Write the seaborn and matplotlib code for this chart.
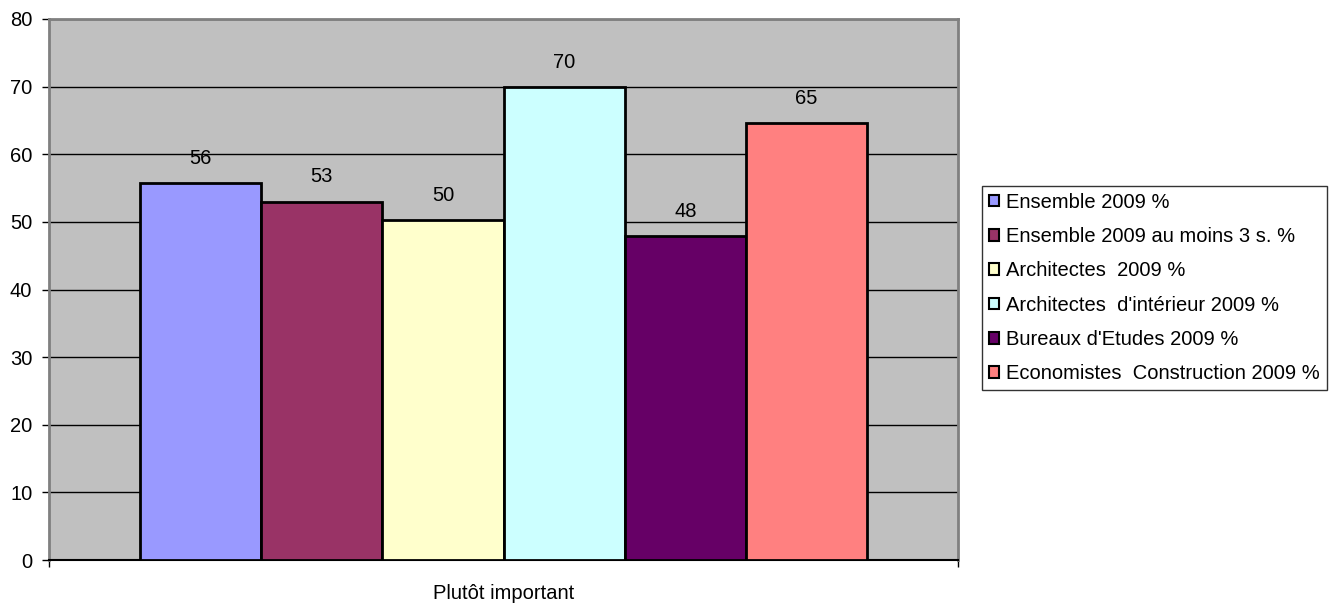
import matplotlib
matplotlib.use("Agg")
import matplotlib.pyplot as plt
import seaborn as sns
import pandas as pd

# values
categories = ["Plutôt important"]
series = ["Ensemble 2009 %", "Ensemble 2009 au moins 3 s. %", "Architectes  2009 %",
          "Architectes  d'intérieur 2009 %", "Bureaux d'Etudes 2009 %",
          "Economistes  Construction 2009 %"]
values = [55.7, 53.0, 50.3, 69.9, 47.9, 64.6]
colors = ["#9999FF", "#993366", "#FFFFCC", "#CCFFFF", "#660066", "#FF8080"]

df = pd.DataFrame({"cat": categories * len(series), "serie": series, "val": values})

sns.set_style("white")
plt.rcParams["font.family"] = ["Liberation Sans", "DejaVu Sans"]
plt.rcParams["text.color"] = "black"
plt.rcParams["xtick.color"] = "black"
plt.rcParams["ytick.color"] = "black"

fs = 14.5

fig = plt.figure(figsize=(13.43, 6.05), dpi=100)
ax = fig.add_axes([49 / 1343, 1 - 560 / 605, 909 / 1343, 541 / 605])
ax.set_facecolor("#C0C0C0")

sns.barplot(data=df, x="cat", y="val", hue="serie", palette=colors, width=0.8,
            saturation=1, edgecolor="black", linewidth=2, ax=ax, legend=False, zorder=3)

for c in ax.containers:
    ax.bar_label(c, fmt="%.0f", padding=11, fontsize=fs, color="black")

ax.set_ylim(0, 80)
ax.set_xlim(-0.5, 0.5)
ax.set_yticks(range(0, 81, 10))
ax.yaxis.grid(True, color="black", linewidth=1)
ax.set_axisbelow(True)
ax.set_xlabel("")
ax.set_ylabel("")
ax.tick_params(axis="y", left=True, length=5, width=1, labelsize=fs, pad=7)
ax.set_xticks([0])
ax.set_xticklabels(categories, fontsize=fs)
ax.set_xticks([-0.5, 0.5], minor=True)
ax.tick_params(axis="x", which="major", length=0, pad=17)
ax.tick_params(axis="x", which="minor", bottom=True, length=5, width=1)

for s in ["top", "right", "left"]:
    ax.spines[s].set_color("#808080")
    ax.spines[s].set_linewidth(2)
ax.spines["bottom"].set_color("black")
ax.spines["bottom"].set_linewidth(1.5)

handles = [plt.Rectangle((0, 0), 1, 1, facecolor=col, edgecolor="black", linewidth=1.5)
           for col in colors]
leg = fig.legend(handles, series, loc="center left", bbox_to_anchor=(982 / 1343, 1 - 288 / 605),
                 fontsize=fs, frameon=True, fancybox=False, edgecolor="black",
                 handlelength=0.5, handleheight=0.5, handletextpad=0.35,
                 labelspacing=0.76, borderpad=0.35, borderaxespad=0)
leg.get_frame().set_linewidth(1)

fig.savefig("out.png", dpi=100)
